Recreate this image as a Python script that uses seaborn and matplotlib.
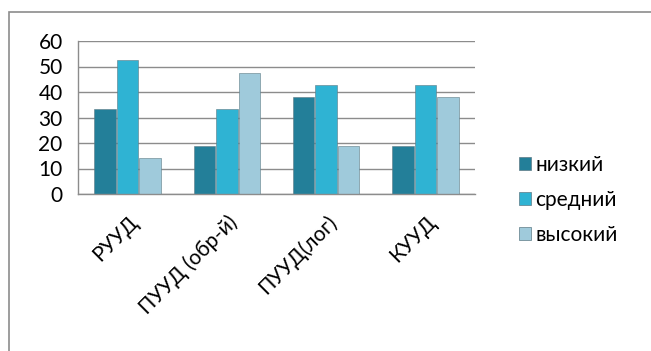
import matplotlib
matplotlib.use("Agg")
import matplotlib.pyplot as plt
from matplotlib.patches import Rectangle, Patch
import seaborn as sns
import pandas as pd

# data (percent of 21 students)
categories = ["РУУД", "ПУУД (обр-й)", "ПУУД(лог)", "КУУД"]
levels = ["низкий", "средний", "высокий"]
low = [33.3, 19.0, 38.1, 19.0]
mid = [52.4, 33.3, 42.9, 42.9]
high = [14.3, 47.6, 19.0, 38.1]

colors = ["#237f99", "#2fb3d3", "#9fcadb"]

df = pd.DataFrame({
    "cat": categories * 3,
    "level": [levels[0]] * 4 + [levels[1]] * 4 + [levels[2]] * 4,
    "value": low + mid + high,
})

sns.set_style("white")
plt.rcParams["font.family"] = ["Lato", "DejaVu Sans"]
plt.rcParams["text.color"] = "black"

fig = plt.figure(figsize=(6.51, 3.51), dpi=100)
ax = fig.add_axes([78 / 651, 1 - 194 / 351, 397 / 651, 153 / 351])

sns.barplot(data=df, x="cat", y="value", hue="level", palette=colors,
            width=0.68, gap=0.04, ax=ax, legend=False, saturation=1,
            edgecolor="#5d7a85", linewidth=0.4)

ax.set_ylim(0, 60)
ax.set_yticks(range(0, 61, 10))
ax.set_xlim(-0.5, 3.5)
ax.yaxis.grid(True, color="#8c8c8c", linewidth=1.0)
ax.set_axisbelow(True)
ax.set_xlabel("")
ax.set_ylabel("")

for s in ["top", "right"]:
    ax.spines[s].set_visible(False)
for s in ["left", "bottom"]:
    ax.spines[s].set_color("#8c8c8c")
    ax.spines[s].set_linewidth(1.0)

# category boundary ticks
ax.set_xticks([-0.5, 0.5, 1.5, 2.5, 3.5], minor=True)
ax.set_xticks(range(4))
ax.tick_params(axis="x", which="minor", length=7, color="#8c8c8c", width=1, direction="out")
ax.tick_params(axis="x", which="major", length=0, pad=13, labelcolor="black")
ax.tick_params(axis="y", length=8, color="#8c8c8c", width=1, labelsize=15, pad=3,
               labelcolor="black")
ax.set_xticklabels(categories, rotation=45, ha="right", va="top",
                   rotation_mode="anchor", fontsize=15)

handles = [Patch(facecolor=c, edgecolor="#5d7a85", linewidth=0.5) for c in colors]
fig.legend(handles, levels, loc="center left", bbox_to_anchor=(500 / 651, 1 - 200 / 351),
           frameon=False, fontsize=15, handlelength=0.6, handleheight=0.6,
           handletextpad=0.2, labelspacing=0.72)

# outer chart frame
fig.patches.append(Rectangle((9 / 651, -0.2), 1.2, 1 - 12 / 351 + 0.2,
                             transform=fig.transFigure, fill=False,
                             edgecolor="#8c8c8c", linewidth=1.2, clip_on=False))

fig.savefig("out.png", dpi=100)
